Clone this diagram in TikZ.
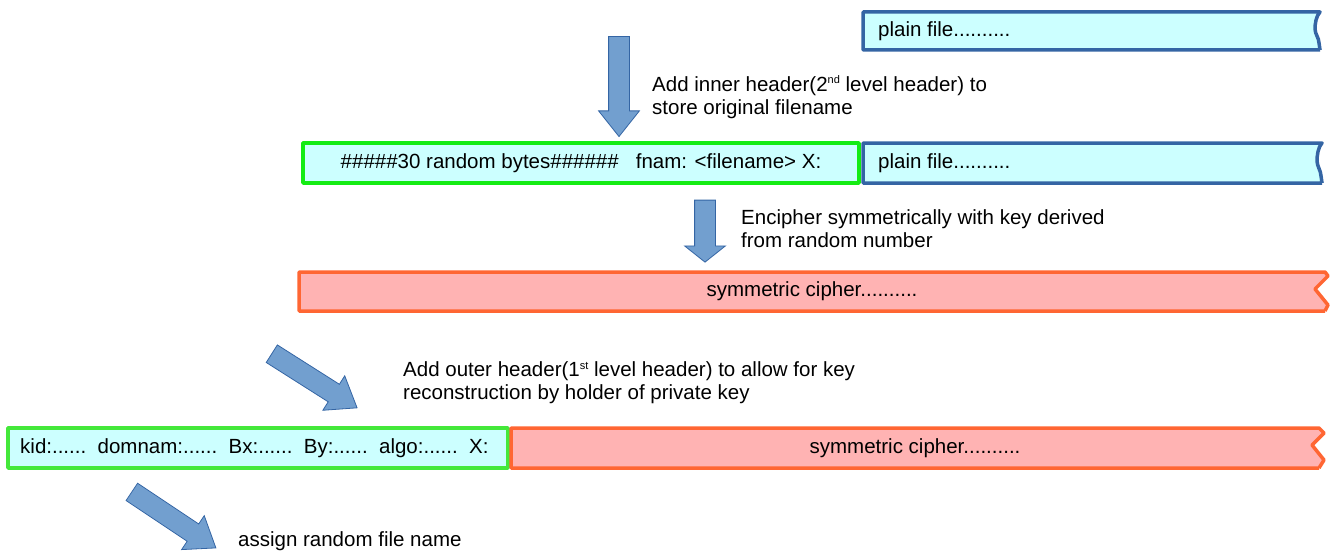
\documentclass[tikz,border=0pt]{standalone}
\usepackage{fontspec}
\setmainfont{Liberation Sans}
\usetikzlibrary{shapes.arrows, positioning}

\definecolor{plainfill}{RGB}{204,255,255}
\definecolor{plainline}{RGB}{52,101,164}
\definecolor{hdrline}{RGB}{20,236,20}
\definecolor{hdrlinetwo}{RGB}{68,232,58}
\definecolor{ciphfill}{RGB}{255,179,179}
\definecolor{ciphline}{RGB}{255,102,51}
\definecolor{arrfill}{RGB}{114,159,207}

\newcommand{\supx}[1]{\raisebox{0.36em}{\fontsize{11}{11}\selectfont #1}}

\begin{document}
\begin{tikzpicture}[x=1pt, y=-1pt, font=\fontsize{20.5}{23}\selectfont]
            \tikzset{block/.style={rectangle, inner sep=0pt, outer sep=0pt}};
            \tikzset{plainbox/.style={draw=plainline, fill=plainfill, line width=3.5pt, line join=round}};
            \tikzset{hdrbox/.style={draw=hdrline, fill=plainfill, line width=3.5pt, line join=round}};
            \tikzset{ciphbox/.style={draw=ciphline, fill=ciphfill, line width=3.5pt, line join=round}};
            \tikzset{fatarrow/.style={single arrow, draw=plainline, fill=arrfill, line width=0.8pt,
                inner sep=0pt, inner ysep=10pt, minimum width=40pt, single arrow head extend=10pt}};
            \tikzset{note/.style={anchor=west, align=left, inner sep=0pt}};
            \useasboundingbox (0,0) rectangle (1332,551);
            % First
            \node[block, minimum width=457pt, minimum height=38pt] (plainA) at (1091.5,31) {};
            \filldraw[plainbox] (plainA.south east) -- (plainA.south west) -- (plainA.north west) -- (plainA.north east)
                .. controls +(-4,4) and +(0,-5) .. ++(-5,17) .. controls +(0,5) and +(0,-5) .. ++(4,14) -- (plainA.south east);
            \node[note] (plainAtxt) at ([xshift=15pt]plainA.west) {plain file..........};
            \node[fatarrow, rotate=-90, minimum height=100pt, single arrow tip angle=77] (arrA) at (619,80) {};
            \node[note] (noteA) at (652,97) {Add inner header(2\supx{nd} level header) to\\store original filename};
            % Second
            \node[block, minimum width=556pt, minimum height=40pt] (hdrA) at (581,163) {};
            \filldraw[hdrbox] (hdrA.south west) rectangle (hdrA.north east);
            \node[block] (hdrAtxt) at (hdrA) {\#\#\#\#\#30 random bytes\#\#\#\#\#\#\ \ \ fnam: <filename> X:};
            \node[block, minimum width=459pt, minimum height=40pt] (plainB) at (1092.5,163) {};
            \filldraw[plainbox] (plainB.south east) -- (plainB.south west) -- (plainB.north west) -- (plainB.north east)
                .. controls +(-4,4) and +(0,-5) .. ++(-5,18) .. controls +(0,5) and +(0,-5) .. ++(4,15) -- (plainB.south east);
            \node[note] (plainBtxt) at ([xshift=15pt]plainB.west) {plain file..........};
            \node[fatarrow, rotate=-90, minimum height=62pt, single arrow tip angle=103] (arrB) at (705,227) {};
            \node[note] (noteB) at (741,229) {Encipher symmetrically with key derived\\from random number};
            % Third
            \node[block, minimum width=1026pt, minimum height=39pt] (ciphA) at (812,291.5) {};
            \filldraw[ciphbox] (ciphA.south east) -- (ciphA.south west) -- (ciphA.north west) -- (ciphA.north east)
                -- ++(3,4) -- ++(-13,13) -- ++(13,16) -- (ciphA.south east);
            \node[block] (ciphAtxt) at (ciphA) {symmetric cipher..........};
            \node[fatarrow, rotate=-32.4, minimum height=101pt, single arrow tip angle=73] (arrC) at (308.5,377) {};
            \node[note] (noteC) at (403,383) {Add outer header(1\supx{st} level header) to allow for key\\reconstruction by holder of private key};
            % Fourth
            \node[block, minimum width=500pt, minimum height=40pt] (hdrB) at (258,448) {};
            \filldraw[hdrbox, draw=hdrlinetwo] (hdrB.south west) rectangle (hdrB.north east);
            \node[note] (hdrBtxt) at ([xshift=12pt]hdrB.west)
                {kid:......\ \ domnam:......\ \ Bx:......\ \ By:......\ \ algo:......\ \ X:};
            \node[block, minimum width=808pt, minimum height=40pt] (ciphB) at (915,448) {};
            \filldraw[ciphbox] (ciphB.south east) -- (ciphB.south west) -- (ciphB.north west) -- (ciphB.north east)
                -- ++(5,5) -- ++(-12,12) -- ++(12,15) -- (ciphB.south east);
            \node[block] (ciphBtxt) at (ciphB) {symmetric cipher..........};
            \node[fatarrow, rotate=-33.7, minimum height=101pt, single arrow tip angle=73] (arrD) at (168,516) {};
            \node[note] (noteD) at (238,541) {assign random file name};
\end{tikzpicture}
\end{document}
